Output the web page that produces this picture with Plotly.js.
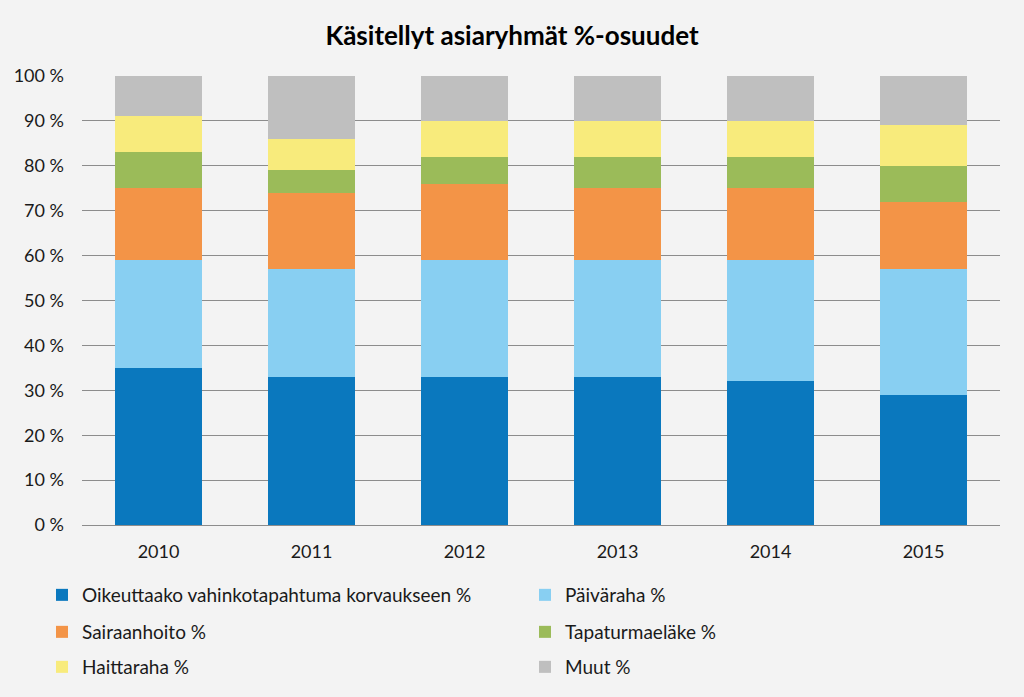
<!DOCTYPE html>
<html>
<head>
<meta charset="utf-8">
<script src="https://cdn.plot.ly/plotly-3.0.1.min.js"></script>
<style>html,body{margin:0;padding:0;background:#f3f3f3;}#chart{width:1024px;height:697px;}</style>
</head>
<body>
<div id="chart"></div>
<script>
const years = ['2010', '2011', '2012', '2013', '2014', '2015'];
const oikeuttaako = [35, 33, 33, 33, 32, 29];
const paivaraha = [24, 24, 26, 26, 27, 28];
const sairaanhoito = [16, 17, 17, 16, 16, 15];
const tapaturmaelake = [8, 5, 6, 7, 7, 8];
const haittaraha = [8, 7, 8, 8, 8, 9];
const muut = [9, 14, 10, 10, 10, 11];

const seriesNames = ['Oikeuttaako vahinkotapahtuma korvaukseen %', 'Päiväraha %', 'Sairaanhoito %', 'Tapaturmaeläke %', 'Haittaraha %', 'Muut %'];
const seriesValues = [oikeuttaako, paivaraha, sairaanhoito, tapaturmaelake, haittaraha, muut];
const colors = ['#0a78be', '#88cff2', '#f39447', '#9bbb59', '#f8eb7c', '#bfbfbf'];
const legendIds = ['legend', 'legend2', 'legend3', 'legend4', 'legend5', 'legend6'];

const traces = seriesNames.map((name, i) => ({
  type: 'bar',
  name: name,
  x: years,
  y: seriesValues[i],
  marker: {color: colors[i], line: {width: 0}},
  legend: legendIds[i],
  hoverinfo: 'x+y+name'
}));

const FONT = 'Lato, "Open Sans", sans-serif';
const legendCommon = {
  orientation: 'h',
  xref: 'container',
  yref: 'container',
  xanchor: 'left',
  yanchor: 'middle',
  bgcolor: 'rgba(0,0,0,0)',
  font: {family: FONT, size: 19, color: '#1a1a1a'},
  itemwidth: 30
};
const colX = [42 / 1024, 525 / 1024];
const rowY = [1 - 595 / 697, 1 - 632 / 697, 1 - 667 / 697];

const layout = {
  width: 1024,
  height: 697,
  paper_bgcolor: '#f3f3f3',
  plot_bgcolor: '#f3f3f3',
  barmode: 'stack',
  bargap: 0.43,
  margin: {l: 82, r: 24, t: 76, b: 172},
  title: {
    text: '<b>Käsitellyt asiaryhmät %-osuudet</b>',
    font: {family: FONT, size: 26, color: '#000000'},
    x: 0.5, xref: 'container', xanchor: 'center',
    y: 1 - 36 / 697, yref: 'container', yanchor: 'middle'
  },
  xaxis: {
    type: 'category',
    tickfont: {family: FONT, size: 18, color: '#1a1a1a'},
    showgrid: false,
    showline: true,
    linecolor: '#8c8c8c',
    linewidth: 1,
    ticks: '',
    ticklabelstandoff: 10
  },
  yaxis: {
    range: [0, 100],
    dtick: 10,
    tick0: 0,
    ticksuffix: ' %',
    tickfont: {family: FONT, size: 18, color: '#1a1a1a'},
    showgrid: true,
    gridcolor: '#8c8c8c',
    gridwidth: 1,
    zeroline: false,
    showline: false,
    ticks: '',
    ticklabelstandoff: 17
  },
  showlegend: true
};
legendIds.forEach((id, i) => {
  layout[id] = Object.assign({}, legendCommon, {x: colX[i % 2], y: rowY[Math.floor(i / 2)]});
});

Plotly.newPlot('chart', traces, layout, {displayModeBar: false, staticPlot: true});
</script>
</body>
</html>
